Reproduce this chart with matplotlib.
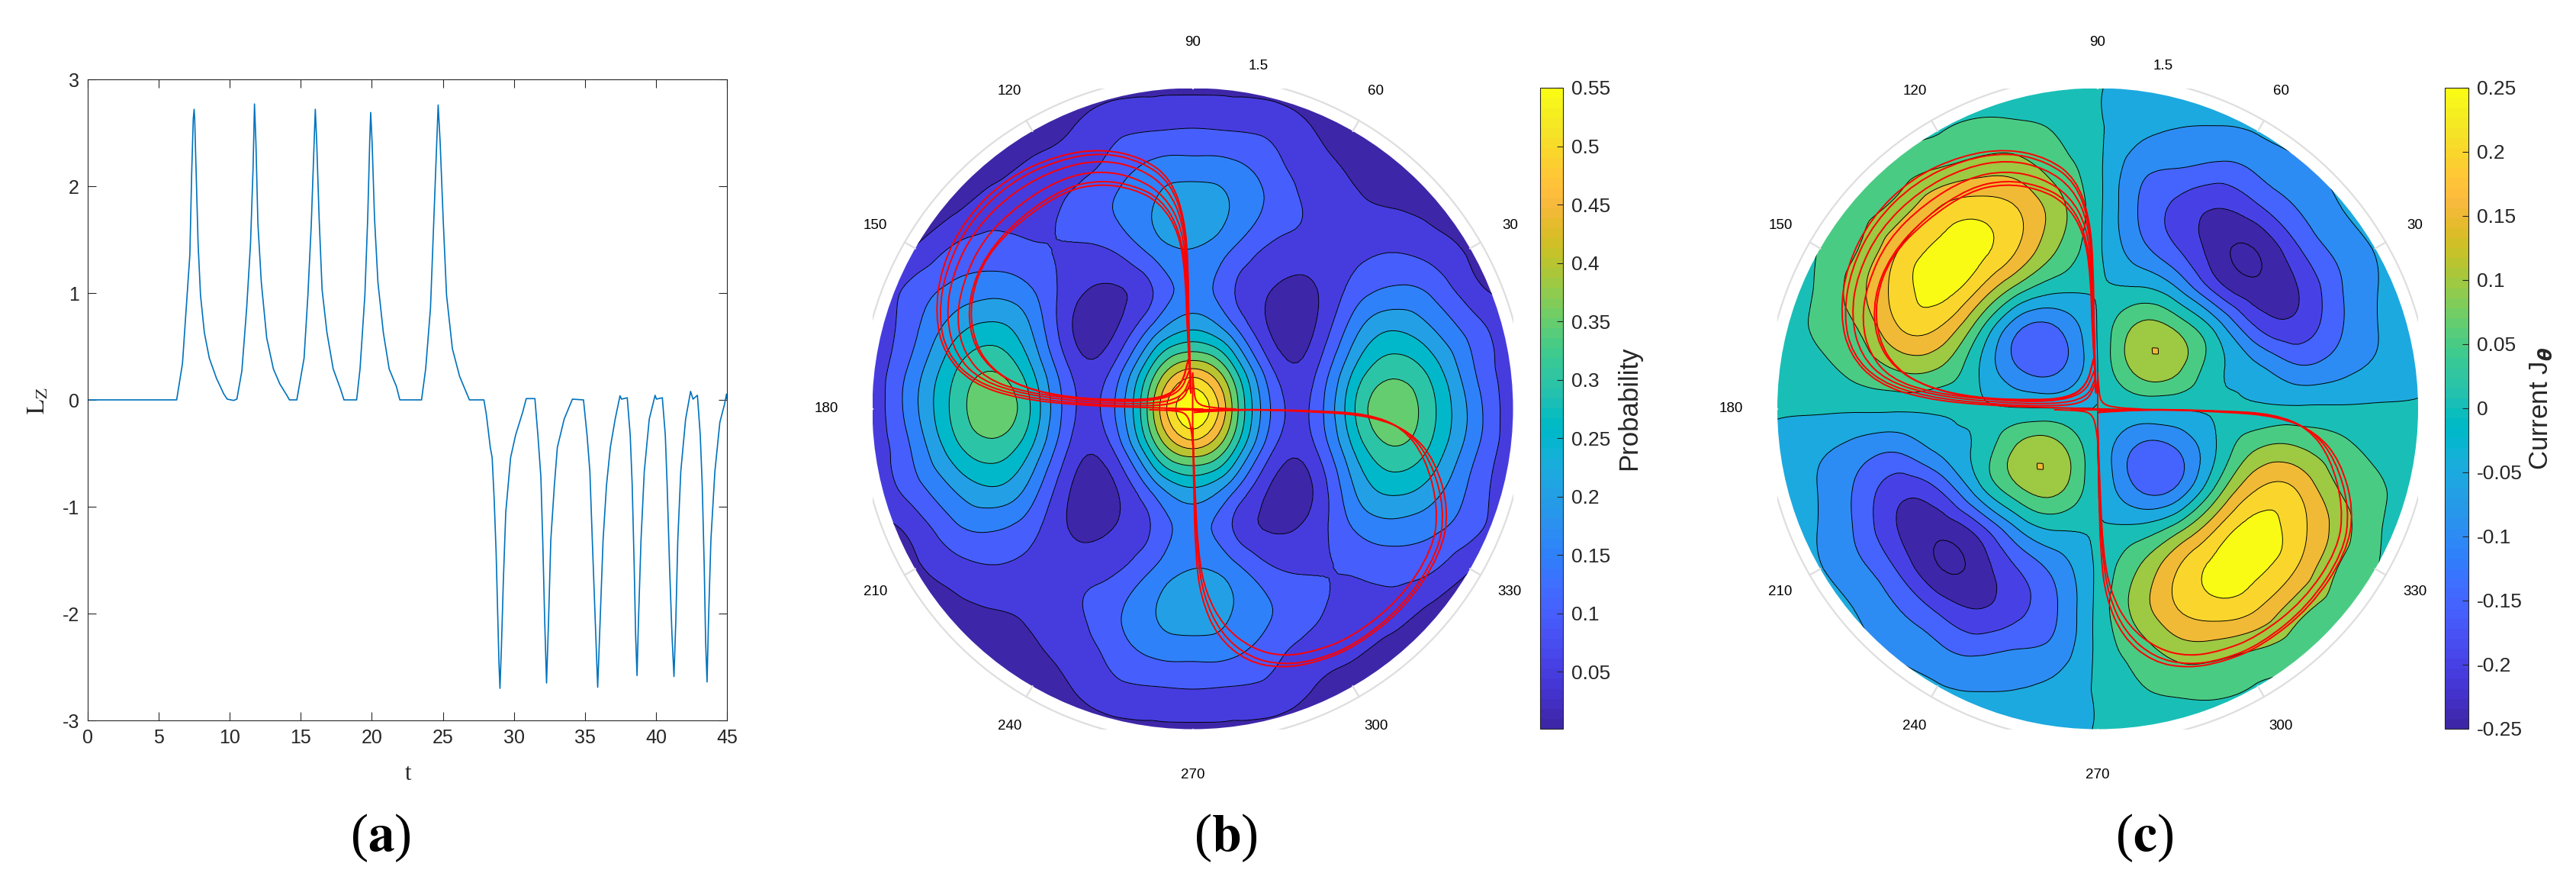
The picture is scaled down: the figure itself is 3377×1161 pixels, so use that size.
import matplotlib
matplotlib.use('Agg')
import matplotlib.pyplot as plt
import numpy as np
from matplotlib.cm import ScalarMappable
from matplotlib.colors import ListedColormap, Normalize
from matplotlib.patches import Circle, PathPatch
from matplotlib.path import Path
from matplotlib.tri import Triangulation, UniformTriRefiner

plt.rcParams['font.family'] = 'Liberation Sans'
plt.rcParams['axes.unicode_minus'] = False

W, H = 3377, 1161
DARK = '#262626'

# panel a: L_z against t
t_vals = [0, 6.26, 6.67, 7.0, 7.19, 7.32, 7.43, 7.49, 7.53, 7.63, 7.77, 7.94, 8.21, 8.56, 9.07, 9.58, 9.82, 10.27, 10.5,
          10.85, 11.19, 11.46, 11.64, 11.74, 11.84, 11.98, 12.22, 12.6, 13.07, 13.52, 14.03, 14.2, 14.72,
          15.23, 15.5, 15.74, 15.91, 16.02, 16.12, 16.29, 16.5, 16.84, 17.28, 17.8, 18.04, 18.93,
          19.17, 19.51, 19.71, 19.85, 19.92, 20.02, 20.19, 20.43, 20.81, 21.22, 21.73, 21.97, 23.5,
          23.79, 24.13, 24.37, 24.54, 24.67, 24.81, 25.02, 25.26, 25.67, 26.18, 26.7, 26.87, 27.89,
          28.06, 28.34, 28.47, 28.61, 28.75, 28.85, 28.95, 29.02, 29.12, 29.26, 29.43, 29.77, 30.12, 30.63, 30.87, 31.48,
          31.69, 31.9, 32.03, 32.17, 32.3, 32.44, 32.6, 32.85, 33.06, 33.54, 34.12, 34.9,
          35.15, 35.35, 35.52, 35.73, 35.9, 36.07, 36.28, 36.52, 36.79, 37.13, 37.47, 37.58, 37.98,
          38.19, 38.33, 38.47, 38.57, 38.67, 38.77, 38.95, 39.18, 39.53, 39.94, 40.04, 40.45,
          40.66, 40.79, 40.96, 41.13, 41.27, 41.4, 41.54, 41.75, 42.09, 42.44, 42.61, 42.92,
          43.12, 43.26, 43.4, 43.5, 43.6, 43.7, 43.87, 44.15, 44.5, 44.83, 44.97, 45]
lz_vals = [0, 0, .34, .98, 1.36, 2.13, 2.63, 2.72, 2.63, 2.15, 1.46, .98, .63, .39, .2, .055, .007, -.005, .007,
           .27, .86, 1.46, 2.17, 2.77, 2.41, 1.65, 1.1, .58, .29, .15, .04, 0, 0,
           .39, .98, 1.65, 2.29, 2.72, 2.41, 1.7, 1.03, .63, .29, .1, 0, 0,
           .29, .98, 1.7, 2.41, 2.69, 2.41, 1.7, 1.1, .63, .29, .126, 0, 0,
           .29, .86, 1.7, 2.29, 2.76, 2.41, 1.7, .98, .48, .22, .055, 0, 0,
           -.136, -.445, -.54, -.92, -1.43, -1.95, -2.46, -2.70, -2.33, -1.69, -1.05, -.54, -.33, -.11, .012, .012,
           -.33, -.72, -1.31, -2.07, -2.65, -2.07, -1.31, -.8, -.445, -.18, .007, 0,
           -.33, -.67, -1.31, -2.07, -2.69, -2.07, -1.31, -.8, -.445, -.18, .038, .007, .02,
           -.33, -.8, -1.56, -2.2, -2.58, -2.07, -1.31, -.67, -.18, .043, .007, .02,
           -.33, -.8, -1.56, -2.2, -2.59, -2.07, -1.31, -.67, -.18, .08, .007, .043,
           -.33, -.8, -1.56, -2.27, -2.64, -2.07, -1.31, -.67, -.21, -.04, .055, .01]

# panel b: probability read on a 17 x 17 grid, top row first
prob_grid = [
    [.02, .02, .02, .02, .02, .02, .03, .04, .04, .04, .03, .02, .02, .02, .02, .02, .02],
    [.02, .02, .02, .02, .03, .05, .085, .095, .10, .095, .085, .05, .03, .02, .02, .02, .02],
    [.02, .02, .02, .035, .06, .08, .12, .165, .175, .165, .12, .07, .045, .03, .02, .02, .02],
    [.02, .02, .04, .075, .085, .11, .15, .20, .23, .195, .135, .09, .06, .05, .035, .02, .02],
    [.02, .05, .105, .12, .105, .095, .105, .17, .20, .15, .09, .08, .085, .095, .075, .04, .02],
    [.045, .115, .16, .18, .15, .07, .045, .10, .17, .105, .05, .045, .115, .155, .135, .065, .04],
    [.06, .135, .225, .265, .195, .05, .04, .165, .245, .165, .04, .045, .175, .245, .20, .125, .06],
    [.065, .165, .287, .345, .25, .09, .105, .315, .45, .315, .10, .085, .245, .33, .275, .155, .07],
    [.065, .18, .31, .385, .29, .11, .14, .395, .59, .395, .14, .11, .29, .385, .31, .18, .065],
    [.07, .155, .275, .33, .245, .085, .10, .315, .45, .315, .105, .09, .25, .345, .287, .165, .065],
    [.06, .125, .20, .245, .175, .045, .04, .165, .245, .165, .04, .05, .195, .265, .225, .135, .06],
    [.04, .065, .135, .155, .115, .045, .05, .105, .17, .10, .045, .07, .15, .18, .16, .115, .045],
    [.02, .04, .075, .095, .085, .08, .09, .15, .20, .17, .105, .095, .105, .12, .105, .05, .02],
    [.02, .02, .035, .05, .06, .09, .135, .195, .23, .20, .15, .11, .085, .075, .04, .02, .02],
    [.02, .02, .02, .03, .045, .07, .12, .165, .175, .165, .12, .08, .06, .035, .02, .02, .02],
    [.02, .02, .02, .02, .03, .05, .085, .095, .10, .095, .085, .05, .03, .02, .02, .02, .02],
    [.02, .02, .02, .02, .02, .02, .03, .04, .04, .04, .03, .02, .02, .02, .02, .02, .02],
]

# panel c: current read on the same grid
curr_grid = [
    [.02, .02, .02, .02, .02, .02, .02, .02, .005, -.03, -.03, -.03, -.03, -.02, -.02, -.02, -.02],
    [.02, .02, .02, .03, .045, .06, .06, .045, .008, -.035, -.05, -.052, -.045, -.03, -.02, -.02, -.02],
    [.02, .02, .03, .07, .10, .125, .125, .075, .012, -.08, -.10, -.115, -.09, -.06, -.04, -.03, -.02],
    [.02, .04, .075, .12, .20, .23, .20, .12, .015, -.10, -.165, -.20, -.16, -.098, -.053, -.03, -.02],
    [.01, .05, .098, .195, .26, .265, .20, .10, .01, -.08, -.15, -.23, -.245, -.155, -.085, -.045, -.02],
    [.02, .055, .13, .22, .27, .205, .08, .015, .005, .005, -.05, -.175, -.235, -.20, -.11, -.05, -.02],
    [.02, .055, .10, .195, .20, .07, -.09, -.102, .003, .113, .09, -.02, -.15, -.18, -.11, -.05, -.02],
    [.02, .04, .065, .105, .10, .005, -.097, -.108, 0, .117, .11, .012, -.04, -.09, -.07, -.04, -.02],
    [.008, .008, .008, .008, .008, .006, .004, .002, 0, .002, .004, .006, .008, .008, .008, .008, .008],
    [-.02, -.04, -.07, -.09, -.04, .012, .11, .117, 0, -.108, -.097, .005, .10, .105, .065, .04, .02],
    [-.02, -.05, -.11, -.18, -.15, -.02, .09, .113, .003, -.102, -.09, .07, .20, .195, .10, .055, .02],
    [-.02, -.05, -.11, -.20, -.235, -.175, -.05, .005, .005, .015, .08, .205, .27, .22, .13, .055, .02],
    [-.02, -.045, -.085, -.155, -.245, -.23, -.15, -.08, .01, .10, .20, .265, .26, .195, .098, .05, .01],
    [-.02, -.03, -.053, -.098, -.16, -.20, -.165, -.10, .015, .12, .20, .23, .20, .12, .075, .04, .02],
    [-.02, -.03, -.04, -.06, -.09, -.115, -.10, -.08, .012, .075, .125, .125, .10, .07, .03, .02, .02],
    [-.02, -.02, -.02, -.03, -.045, -.052, -.05, -.035, .008, .045, .06, .06, .045, .03, .02, .02, .02],
    [-.02, -.02, -.02, -.02, -.03, -.03, -.03, -.03, .005, .02, .02, .02, .02, .02, .02, .02, .02],
]
prob_levels = [.05, .10, .15, .20, .25, .30, .35, .40, .45, .50, .55]
curr_levels = [-.25, -.20, -.15, -.10, -.05, 0, .05, .10, .15, .20, .25]
prob_ticks = [.05, .1, .15, .2, .25, .3, .35, .4, .45, .5, .55]
prob_ticklabels = ['0.05', '0.1', '0.15', '0.2', '0.25', '0.3', '0.35', '0.4', '0.45', '0.5', '0.55']
curr_ticks = [-.25, -.2, -.15, -.1, -.05, 0, .05, .1, .15, .2, .25]
curr_ticklabels = ['-0.25', '-0.2', '-0.15', '-0.1', '-0.05', '0', '0.05', '0.1', '0.15', '0.2', '0.25']
angle_labels = [30, 60, 90, 120, 150, 180, 210, 240, 270, 300, 330]

# trajectory, upper left loops then lower right loops, in the polar plane
upper_loops = [
    ([-.008, -.018, -.02, -.038, -.102, -.23, -.422, -.639, -.869, -1.061, -1.176, -1.206, -1.163, -1.035, -.818, -.511, -.204, -.05, .05],
     [.073, .346, .666, .894, 1.076, 1.172, 1.217, 1.185, 1.08, .894, .666, .438, .255, .119, .046, .014, .005, 0, -.002]),
    ([-.008, -.018, -.022, -.04, -.105, -.235, -.42, -.63, -.855, -1.045, -1.155, -1.19, -1.15, -1.02, -.8, -.5, -.2, -.05, -.01],
     [.07, .34, .66, .88, 1.06, 1.155, 1.2, 1.165, 1.06, .875, .655, .435, .255, .125, .055, .02, .01, .03, .12]),
    ([-.01, -.02, -.024, -.044, -.115, -.245, -.42, -.62, -.835, -1.02, -1.125, -1.155, -1.11, -.99, -.78, -.5, -.2, -.05, -.012],
     [.08, .34, .65, .87, 1.03, 1.125, 1.165, 1.13, 1.02, .84, .63, .43, .25, .13, .065, .03, .02, .05, .14]),
    ([-.01, -.022, -.028, -.05, -.13, -.26, -.43, -.61, -.81, -.985, -1.08, -1.105, -1.07, -.97, -.78, -.5, -.22, -.06, -.015],
     [.09, .34, .64, .85, .995, 1.08, 1.115, 1.08, .96, .79, .58, .41, .26, .14, .075, .04, .03, .07, .18]),
    ([-.008, -.024, -.03, -.06, -.145, -.275, -.43, -.6, -.805, -.97, -1.05, -1.04, -.955, -.8, -.57, -.31, -.14, -.05, -.02],
     [.09, .345, .63, .835, .98, 1.045, 1.07, 1.035, .9, .72, .52, .33, .19, .1, .05, .04, .05, .11, .23]),
    ([-.008, -.026, -.033, -.064, -.153, -.281, -.434, -.6, -.805, -.971, -1.043, -1.027, -.946, -.792, -.562, -.307, -.141, -.051, -.02],
     [.096, .346, .62, .825, .966, 1.03, 1.053, 1.019, .882, .711, .506, .324, .187, .096, .046, .036, .046, .107, .233]),
]
lower_loops = [
    ([.005, .204, .588, .843, 1.022, 1.137, 1.2, 1.163, .997, .767, .588, .422, .256, .115, .038, .013, .005, 0],
     [-.018, -.002, -.014, -.036, -.109, -.246, -.474, -.679, -.93, -1.112, -1.185, -1.215, -1.185, -1.067, -.884, -.679, -.36, -.087]),
    ([.005, .204, .588, .835, 1.005, 1.115, 1.18, 1.15, .985, .76, .585, .425, .265, .13, .05, .02, .008, 0],
     [-.01, -.002, -.012, -.03, -.1, -.24, -.47, -.675, -.925, -1.105, -1.175, -1.2, -1.165, -1.05, -.875, -.67, -.36, -.087]),
    ([.005, .204, .588, .825, .985, 1.09, 1.15, 1.125, .965, .745, .575, .425, .28, .145, .06, .025, .01, 0],
     [-.005, -.002, -.01, -.025, -.09, -.23, -.46, -.66, -.9, -1.07, -1.135, -1.16, -1.125, -1.02, -.86, -.67, -.36, -.087]),
]
center_x = [[0, .005, .02, .077, .204], [0, -.008, -.03, -.077, -.204], [0, 0, 0], [-.13, 0, .15]]
center_y = [[.164, .073, .023, .005, -.002], [-.155, -.075, -.023, -.009, -.005], [.17, 0, -.17], [-.006, -.006, -.006]]

# parula, 64 entries
parula = ListedColormap([
    (.2422, .1504, .6603), (.2504, .1650, .7076), (.2578, .1818, .7511), (.2647, .1978, .7952),
    (.2706, .2147, .8364), (.2751, .2342, .8710), (.2783, .2559, .8991), (.2803, .2782, .9221),
    (.2813, .3006, .9414), (.2810, .3228, .9579), (.2795, .3447, .9717), (.2760, .3667, .9829),
    (.2699, .3892, .9906), (.2602, .4123, .9952), (.2440, .4358, .9988), (.2206, .4603, .9973),
    (.1963, .4847, .9892), (.1834, .5074, .9798), (.1786, .5289, .9682), (.1764, .5499, .9520),
    (.1687, .5703, .9359), (.1540, .5902, .9218), (.1460, .6091, .9079), (.1380, .6276, .8973),
    (.1248, .6459, .8883), (.1113, .6635, .8763), (.0952, .6798, .8598), (.0689, .6948, .8394),
    (.0297, .7082, .8163), (.0036, .7203, .7917), (.0067, .7312, .7660), (.0433, .7411, .7394),
    (.0964, .7500, .7120), (.1408, .7584, .6842), (.1717, .7670, .6554), (.1938, .7758, .6251),
    (.2161, .7843, .5923), (.2470, .7918, .5567), (.2906, .7973, .5188), (.3406, .8008, .4789),
    (.3909, .8029, .4354), (.4456, .8024, .3909), (.5044, .7993, .3480), (.5616, .7942, .3045),
    (.6174, .7876, .2612), (.6720, .7793, .2227), (.7242, .7698, .1910), (.7738, .7598, .1646),
    (.8203, .7498, .1535), (.8634, .7406, .1596), (.9035, .7330, .1774), (.9393, .7288, .2100),
    (.9728, .7298, .2394), (.9956, .7434, .2371), (.9970, .7659, .2199), (.9952, .7893, .2028),
    (.9892, .8136, .1885), (.9786, .8386, .1766), (.9676, .8639, .1643), (.9610, .8890, .1537),
    (.9597, .9135, .1423), (.9628, .9373, .1265), (.9691, .9606, .1064), (.9769, .9839, .0805)])


def px_axes(fig, x0, y0, x1, y1, **kw):
    return fig.add_axes([x0 / W, 1 - y1 / H, (x1 - x0) / W, (y1 - y0) / H], **kw)


def smooth_path(xs, ys):
    # quadratic pieces between the midpoints, matplotlib draws the curves
    pts = np.column_stack([xs, ys])
    verts = [pts[0]]
    codes = [Path.MOVETO]
    for i in range(1, len(pts) - 1):
        verts += [pts[i], (pts[i] + pts[i + 1]) / 2]
        codes += [Path.CURVE3, Path.CURVE3]
    verts.append(pts[-1])
    codes.append(Path.LINETO)
    return Path(verts, codes)


def draw_disk(ax, grid, fill_levels, line_levels, band_values, norm):
    n = len(grid)
    xg, yg = np.meshgrid(np.linspace(-1.5, 1.5, n), np.linspace(1.5, -1.5, n))
    tri = Triangulation(xg.ravel(), yg.ravel())
    fine, zfine = UniformTriRefiner(tri).refine_field(np.array(grid).ravel(), subdiv=3)
    disk = Circle((0, 0), 1.5, transform=ax.transData)
    cf = ax.tricontourf(fine, zfine, levels=fill_levels, colors=[parula(norm(v)) for v in band_values])
    cf.set_clip_path(disk)
    cl = ax.tricontour(fine, zfine, levels=line_levels, colors='k', linewidths=0.7, linestyles='solid')
    cl.set_clip_path(disk)

    for xs, ys in upper_loops + lower_loops:
        ax.add_patch(PathPatch(smooth_path(xs, ys), fc='none', ec='#ff0000', lw=1.4, zorder=4))
    for xs, ys in zip(center_x, center_y):
        ax.add_patch(PathPatch(smooth_path(xs, ys), fc='none', ec='#ff0000', lw=1.4, zorder=4))

    # grey outer circle, cut by the square of the axes
    th = np.radians(np.arange(0, 361, 1))
    ax.plot(1.557 * np.cos(th), 1.557 * np.sin(th), color='#dedede', lw=1.6, zorder=1)
    for a in angle_labels:
        c, s = np.cos(np.radians(a)), np.sin(np.radians(a))
        ax.plot([1.5 * c, 1.557 * c], [1.5 * s, 1.557 * s], color='#dedede', lw=1.6, zorder=1)
        ax.text(1.715 * c, 1.715 * s, str(a), ha='center', va='center', fontsize=13.5, clip_on=False)
    ax.text(.307, 1.605, '1.5', ha='center', va='center', fontsize=13.5, clip_on=False)
    ax.set_xlim(-1.5, 1.5)
    ax.set_ylim(-1.5, 1.5)
    ax.axis('off')


def draw_colorbar(fig, x0, x1, norm, ticks, ticklabels):
    cax = px_axes(fig, x0, 115, x1, 955)
    cb = fig.colorbar(ScalarMappable(norm=norm, cmap=parula), cax=cax)
    cb.set_ticks(ticks)
    cb.set_ticklabels(ticklabels)
    cb.minorticks_off()
    cax.tick_params(direction='in', length=6, width=0.8, labelsize=19, colors=DARK, pad=8)
    cb.outline.set_edgecolor(DARK)
    cb.outline.set_linewidth(0.8)


fig = plt.figure(figsize=(W / 100, H / 100), dpi=100)

# (a)
ax = px_axes(fig, 115, 104, 953, 944)
ax.plot(t_vals, lz_vals, color='#0072BD', lw=1.2)
ax.set_xlim(0, 45)
ax.set_ylim(-3, 3)
ax.set_xticks(np.arange(0, 46, 5))
ax.set_yticks(np.arange(-3, 4))
ax.tick_params(direction='in', top=True, right=True, length=8, width=0.8, labelsize=18, colors=DARK, pad=8)
for s in ax.spines.values():
    s.set_color(DARK)
    s.set_linewidth(0.8)
fig.text(50 / W, 1 - 525 / H, r'$\mathrm{L_Z}$', rotation=90, ha='center', va='center', fontsize=23,
         math_fontfamily='stix', color=DARK)
fig.text(535 / W, 1 - 1015 / H, 't', ha='center', va='center', fontsize=22, family='Liberation Serif', color=DARK)

# (b)
norm_b = Normalize(0.001, 0.55)
ax = px_axes(fig, 1143.5, 115.5, 1983.5, 955.5)
draw_disk(ax, prob_grid, [-1] + prob_levels + [1], prob_levels, [0.001] + prob_levels, norm_b)
draw_colorbar(fig, 2019, 2049, norm_b, prob_ticks, prob_ticklabels)
fig.text(2136 / W, 1 - 535 / H, 'Probability', rotation=90, ha='center', va='center', fontsize=25, color=DARK)

# (c)
norm_c = Normalize(-0.25, 0.25)
ax = px_axes(fig, 2330, 115.5, 3170, 955.5)
draw_disk(ax, curr_grid, [-1] + curr_levels[1:] + [1], curr_levels, curr_levels, norm_c)
draw_colorbar(fig, 3205, 3236, norm_c, curr_ticks, curr_ticklabels)
fig.text(3331 / W, 1 - 535 / H, r'Current J$_{\mathbfit{\theta}}$', rotation=90, ha='center', va='center',
         fontsize=25, color=DARK, math_fontfamily='dejavusans')

# panel letters
for cx, letter in [(499, 'a'), (1607, 'b'), (2811, 'c')]:
    t = fig.text(cx / W, 1 - 1098 / H, '(' + r'$\mathbf{' + letter + r'}$' + ')', ha='center', va='center',
                 fontsize=50, family='Liberation Serif', math_fontfamily='stix')

fig.savefig('out.png', dpi=100)
